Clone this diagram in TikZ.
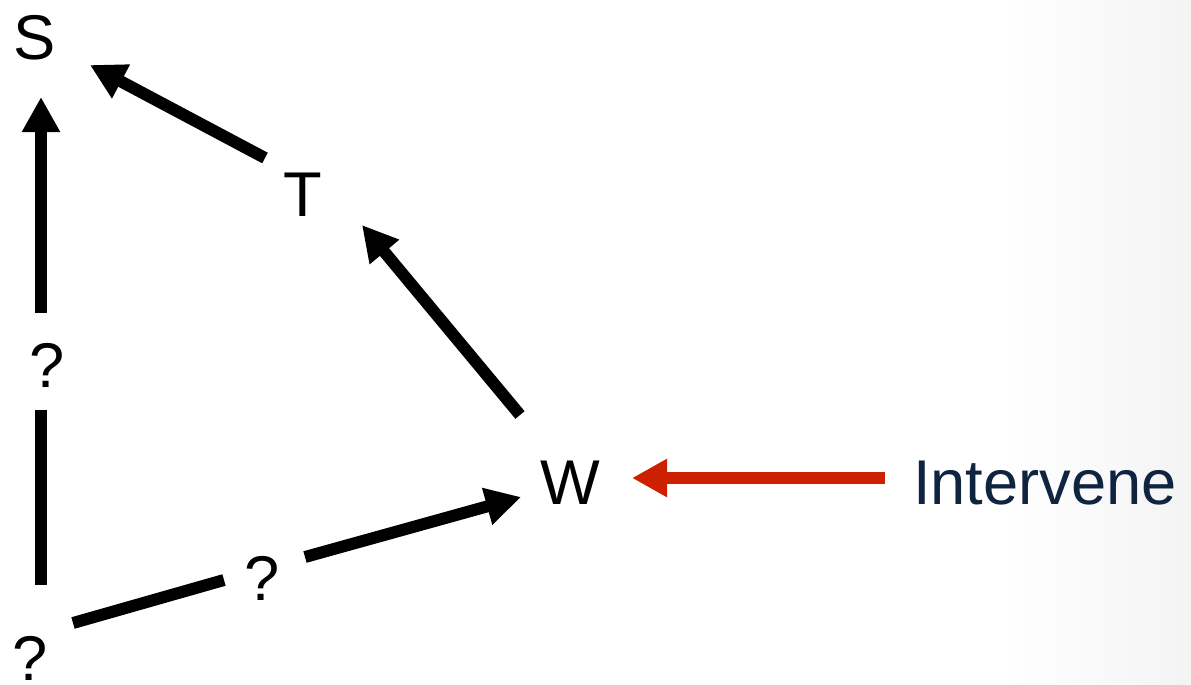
\documentclass[tikz,border=0pt]{standalone}
\usepackage{fontspec}
\setmainfont{Liberation Sans}
\usetikzlibrary{arrows.meta}
\definecolor{redarrow}{RGB}{205,32,0}
\definecolor{navytext}{RGB}{16,36,64}
\tikzset{>={Triangle[length=20pt,width=20.5pt]}}
\tikzset{var/.style={inner sep=0pt,font=\fontsize{36}{40}\selectfont},
  link/.style={line width=6.8pt}}

\begin{document}
\begin{tikzpicture}[x=0.02cm,y=-0.02cm]
% page with a light grey fade on the right
\fill[white] (0,0) rectangle (1191,684);
\shade[left color=white,right color=gray!9] (1000,0) rectangle (1191,684);
\useasboundingbox (0,0) rectangle (1191,684);
\node[var] (S) at (35,38) {S};
\node[var] (T) at (303,195) {T};
\node[var] (W) at (570,483) {W};
\node[var,text=navytext] (I) at (1045,483) {Intervene};
\node[var] (q1) at (47,365) {?};
\node[var] (q2) at (262,578) {?};
\node[var] (qb) at (30,658) {?};
\draw[link,->] ([shift={(-38,-37)}]T.center) -- ([shift={(55,27)}]S.center);
\draw[link,->] ([shift={(-50,-68)}]W.center) -- ([shift={(59,30)}]T.center);
\draw[link] ([shift={(11,-73)}]qb.center) -- ([shift={(-6,45)}]q1.center);
\draw[link,->] ([shift={(-6,-52)}]q1.center) -- ([shift={(6,59)}]S.center);
\draw[link] ([shift={(43,-35)}]qb.center) -- ([shift={(-38,2)}]q2.center);
\draw[link,->] ([shift={(43,-21)}]q2.center) -- ([shift={(-49,14)}]W.center);
\draw[link,->,color=redarrow] ([shift={(-160,-5)}]I.center) -- ([shift={(62,-5)}]W.center);
\end{tikzpicture}
\end{document}
